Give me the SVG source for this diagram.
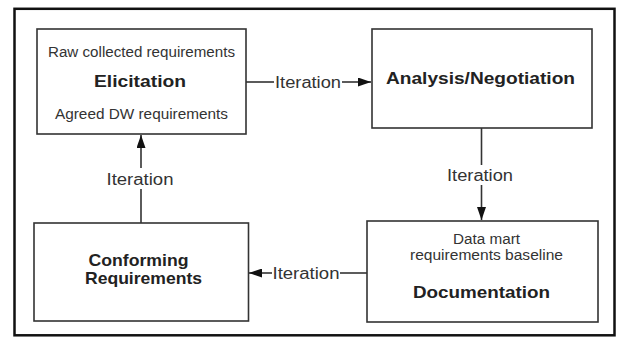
<svg xmlns="http://www.w3.org/2000/svg" width="622" height="338" viewBox="0 0 622 338">
<style>
.box{fill:#fff;stroke:#333;stroke-width:1.6}
.t{font-family:"Liberation Sans",Arial,sans-serif;font-size:14px;fill:#333;text-anchor:middle}
.b{font-family:"Liberation Sans",Arial,sans-serif;font-size:17px;font-weight:bold;fill:#222;text-anchor:middle}
.lbl{font-family:"Liberation Sans",Arial,sans-serif;font-size:16px;fill:#333;text-anchor:middle}
.ln{stroke:#333;stroke-width:1.6;fill:none}
</style>
<defs>
<marker id="ah" viewBox="0 0 13 9" refX="13" refY="4.5" markerWidth="13" markerHeight="9" markerUnits="userSpaceOnUse" orient="auto">
<path d="M0,0 L13,4.5 L0,9 Z" fill="#111"/>
</marker>
</defs>
<rect x="0" y="0" width="622" height="338" fill="#fff"/>
<rect x="14.5" y="8.8" width="600" height="326.5" fill="#fff" stroke="#111" stroke-width="2.5"/>

<g id="connectors">
<line class="ln" x1="246" y1="82" x2="274" y2="82"/>
<line class="ln" x1="342" y1="82" x2="371" y2="82" marker-end="url(#ah)"/>
<text class="lbl" x="308" y="88" textLength="66" lengthAdjust="spacingAndGlyphs">Iteration</text>

<line class="ln" x1="481.5" y1="128" x2="481.5" y2="165"/>
<line class="ln" x1="481.5" y1="185" x2="481.5" y2="220" marker-end="url(#ah)"/>
<text class="lbl" x="480" y="181" textLength="66" lengthAdjust="spacingAndGlyphs">Iteration</text>

<line class="ln" x1="367" y1="273" x2="340" y2="273"/>
<line class="ln" x1="272" y1="273" x2="249" y2="273" marker-end="url(#ah)"/>
<text class="lbl" x="306" y="279" textLength="67" lengthAdjust="spacingAndGlyphs">Iteration</text>

<line class="ln" x1="141" y1="223" x2="141" y2="189"/>
<line class="ln" x1="141" y1="168" x2="141" y2="135" marker-end="url(#ah)"/>
<text class="lbl" x="140" y="185" textLength="67" lengthAdjust="spacingAndGlyphs">Iteration</text>
</g>

<g id="elicitation">
<rect class="box" x="37" y="29" width="209" height="105"/>
<text class="t" x="141.5" y="57" textLength="187" lengthAdjust="spacingAndGlyphs">Raw collected requirements</text>
<text class="b" x="140" y="87" textLength="92" lengthAdjust="spacingAndGlyphs">Elicitation</text>
<text class="t" x="141.5" y="118.5" textLength="173" lengthAdjust="spacingAndGlyphs">Agreed DW requirements</text>
</g>

<g id="analysis">
<rect class="box" x="372" y="29" width="220" height="99"/>
<text class="b" x="480.5" y="84" textLength="189" lengthAdjust="spacingAndGlyphs">Analysis/Negotiation</text>
</g>

<g id="documentation">
<rect class="box" x="367" y="221" width="231" height="101"/>
<text class="t" x="486.5" y="244" textLength="67" lengthAdjust="spacingAndGlyphs">Data mart</text>
<text class="t" x="486.5" y="260" textLength="153" lengthAdjust="spacingAndGlyphs">requirements baseline</text>
<text class="b" x="481.5" y="297.5" textLength="137" lengthAdjust="spacingAndGlyphs">Documentation</text>
</g>

<g id="conforming">
<rect class="box" x="34" y="223" width="214.5" height="98"/>
<text class="b" x="138.5" y="266" textLength="100" lengthAdjust="spacingAndGlyphs">Conforming</text>
<text class="b" x="143.5" y="283.5" textLength="117" lengthAdjust="spacingAndGlyphs">Requirements</text>
</g>
</svg>
